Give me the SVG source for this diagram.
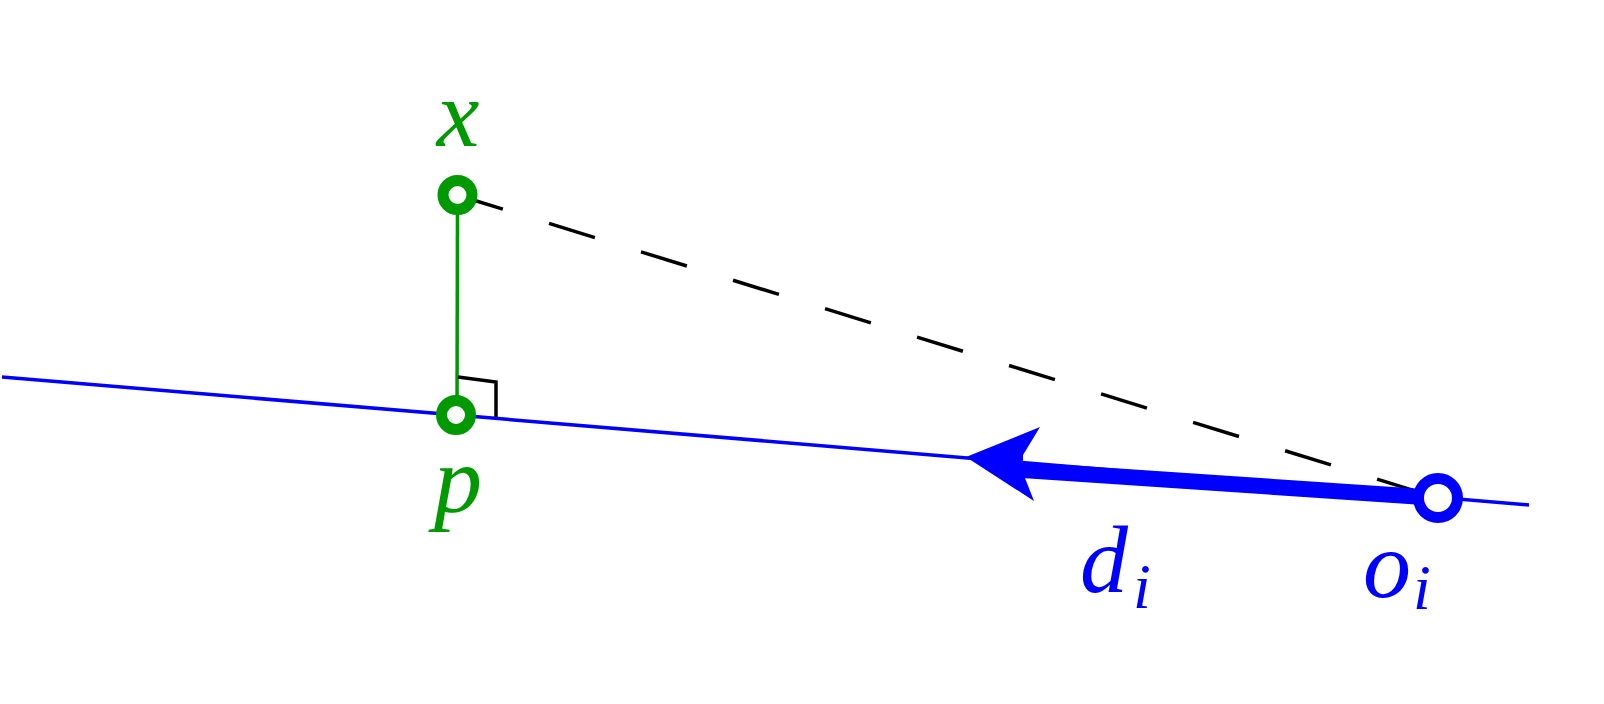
<svg xmlns="http://www.w3.org/2000/svg" width="1604" height="704" viewBox="0 0 1604 704">
<style>
.lbl{font-family:"Liberation Serif","DejaVu Serif",serif;font-style:italic;}
.g{fill:#009900;}
.b{fill:#0000ff;}
</style>
<rect width="1604" height="704" fill="#ffffff"/>
<g id="connectors">
<line id="ray" x1="2" y1="377" x2="1529" y2="505" stroke="#0000ff" stroke-width="3.5"/>
<line id="dashed" x1="457" y1="195" x2="1438" y2="498" stroke="#000000" stroke-width="3.5" stroke-dasharray="48 48.3"/>
<line id="perp" x1="457.5" y1="195" x2="457" y2="415" stroke="#009900" stroke-width="3.5"/>
<polyline id="rightangle" points="458,377 496,382 496,417" fill="none" stroke="#000000" stroke-width="3.5"/>
<g id="vector">
<polygon points="1022,462 1438,490 1438,506 1022,478" fill="#0000ff"/>
<polygon points="966,457 1040,427 1023,455 1023,473 1034,501" fill="#0000ff"/>
</g>
</g>
<g id="node-x">
<circle cx="457.5" cy="195" r="14.5" fill="#ffffff" stroke="#009900" stroke-width="11"/>
<text class="lbl g" x="458" y="146" font-size="96" text-anchor="middle">x</text>
</g>
<g id="node-p">
<circle cx="456" cy="415" r="14.5" fill="#ffffff" stroke="#009900" stroke-width="11"/>
<text class="lbl g" x="458" y="512" font-size="96" text-anchor="middle">p</text>
</g>
<g id="node-oi">
<circle cx="1438" cy="498" r="19.5" fill="#ffffff" stroke="#0000ff" stroke-width="11"/>
<text class="lbl b" x="1363" y="597" font-size="96">o</text>
<text class="lbl b" x="1413" y="609" font-size="64">i</text>
</g>
<g id="label-di">
<text class="lbl b" x="1080" y="592" font-size="96">d</text>
<text class="lbl b" x="1133" y="608" font-size="64">i</text>
</g>
</svg>
